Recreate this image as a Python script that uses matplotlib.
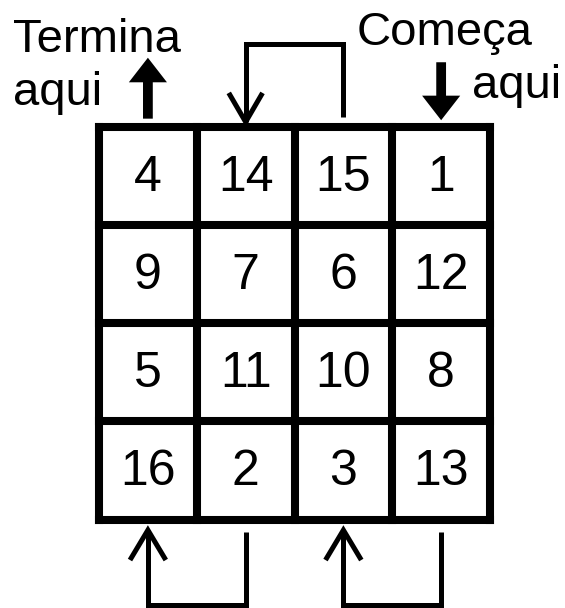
import numpy as np
import matplotlib.pyplot as plt

# valores do quadrado mágico, linha por linha
linha1 = [4, 14, 15, 1]
linha2 = [9, 7, 6, 12]
linha3 = [5, 11, 10, 8]
linha4 = [16, 2, 3, 13]
quadrado = np.array([linha1, linha2, linha3, linha4])

# coluna onde começa e onde termina o percurso
col_inicio = 3
col_fim = 0
# desvios (coluna de saída, coluna de chegada)
desvio_cima = [(2, 1)]
desvio_baixo = [(1, 0), (3, 2)]

texto_inicio = ['Começa', 'aqui']
texto_fim = ['Termina', 'aqui']

plt.rcParams['font.family'] = ['Liberation Sans', 'DejaVu Sans']

fig = plt.figure(figsize=(5.65, 6.08), dpi=100)
ax = fig.add_axes([0, 0, 1, 1])
ax.set_xlim(-1.013, 4.767)
ax.set_ylim(4.90, -1.2875)
ax.axis('off')

n = quadrado.shape[0]

# grade
ax.vlines(np.arange(n + 1), 0, n, color='k', lw=5.8, capstyle='projecting')
ax.hlines(np.arange(n + 1), 0, n, color='k', lw=5.8, capstyle='projecting')

# números
for i in range(n):
    for j in range(n):
        ax.text(j + 0.5, i + 0.47, str(quadrado[i, j]), ha='center',
                va='center_baseline', fontsize=36, color='k')

# setas grossas de início e fim
seta = dict(width=0.1, head_width=0.39, head_length=0.25,
            length_includes_head=True, fc='k', ec='k', lw=0)
ax.arrow(col_fim + 0.5, -0.08, 0, -0.62, **seta)
ax.arrow(col_inicio + 0.5, -0.654, 0, 0.59, **seta)

# desvios com ponta aberta
lw_fino = 3.6
for de, para in desvio_cima:
    xa, xb = de + 0.5, para + 0.5
    ax.plot([xa, xa, xb, xb], [-0.097, -0.84, -0.84, -0.046], color='k',
            lw=lw_fino, solid_joinstyle='miter', solid_capstyle='butt')
    ax.plot([xb - 0.16, xb, xb + 0.16], [-0.32, -0.046, -0.32], color='k',
            lw=lw_fino, solid_joinstyle='miter')

for de, para in desvio_baixo:
    xa, xb = de + 0.5, para + 0.5
    ax.plot([xa, xa, xb, xb], [n + 0.127, n + 0.87, n + 0.87, n + 0.107],
            color='k', lw=lw_fino, solid_joinstyle='miter',
            solid_capstyle='butt')
    ax.plot([xb - 0.17, xb, xb + 0.17], [n + 0.39, n + 0.107, n + 0.39],
            color='k', lw=lw_fino, solid_joinstyle='miter')

# textos
ax.text(-0.88, -0.758, texto_fim[0], ha='left', va='baseline', fontsize=34)
ax.text(-0.88, -0.219, texto_fim[1], ha='left', va='baseline', fontsize=34)
ax.text(2.64, -0.83, texto_inicio[0], ha='left', va='baseline', fontsize=34)
ax.text(3.816, -0.29, texto_inicio[1], ha='left', va='baseline', fontsize=34)

fig.savefig('out.png', dpi=100, facecolor='white')
